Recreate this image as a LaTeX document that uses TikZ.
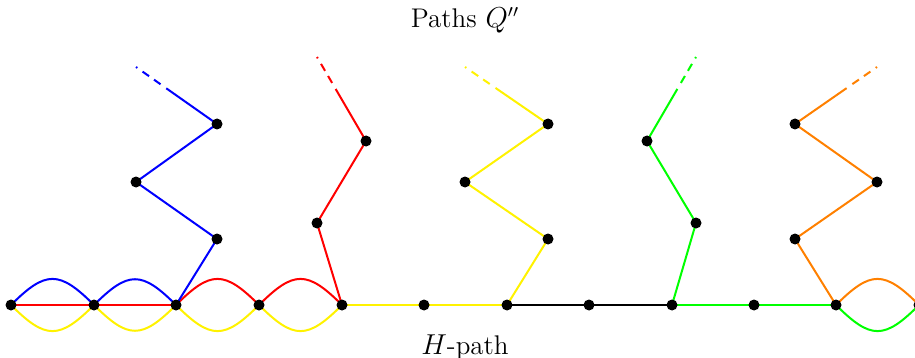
\documentclass[tikz,border=0pt]{standalone}
\usetikzlibrary{calc}
\begin{document}
\begin{tikzpicture}[x=0.5pt,y=-0.5pt,
  dot/.style={circle,fill=black,inner sep=0pt,minimum size=5.5pt},
  edge/.style={line width=1pt},
  fade/.style={line width=1pt,dash pattern=on 0.8pt off 3.2pt on 4pt off 3pt on 4pt off 3.5pt on 200pt off 0pt},
  arcup/.style={line width=1pt,out=45,in=135,looseness=1.52},
  arcdn/.style={line width=1pt,out=-45,in=-135,looseness=1.52},
  lbl/.style={anchor=base,font=\fontsize{13.5}{16}\selectfont}]
\useasboundingbox (0,0) rectangle (915,358);
\definecolor{myorange}{RGB}{255,128,0}
% bottom coordinates
\coordinate (b0) at (11,305);
\coordinate (b1) at (94,305);
\coordinate (b2) at (176,305);
\coordinate (b3) at (259,305);
\coordinate (b4) at (342,305);
\coordinate (b5) at (424,305);
\coordinate (b6) at (507,305);
\coordinate (b7) at (589,305);
\coordinate (b8) at (672,305);
\coordinate (b9) at (754,305);
\coordinate (b10) at (836,305);
\coordinate (b11) at (919,305);
% upper coordinates
\coordinate (u1) at (217,239);
\coordinate (u2) at (136,182);
\coordinate (u3) at (217,124);
\coordinate (e1) at (136,67);
\coordinate (r1) at (317,223);
\coordinate (r2) at (366,141);
\coordinate (e2) at (317,57);
\coordinate (y1) at (548,239);
\coordinate (y2) at (465,182);
\coordinate (y3) at (548,124);
\coordinate (e3) at (465,67);
\coordinate (g1) at (696,223);
\coordinate (g2) at (647,141);
\coordinate (e4) at (696,57);
\coordinate (o1) at (795,239);
\coordinate (o2) at (877,182);
\coordinate (o3) at (795,124);
\coordinate (e5) at (877,67);
% bottom edges
\draw[arcup,blue] (b0) to (b1);
\draw[arcup,blue] (b1) to (b2);
\draw[edge,red] (b0) -- (b1) -- (b2);
\draw[arcdn,yellow] (b0) to (b1);
\draw[arcdn,yellow] (b1) to (b2);
\draw[arcup,red] (b2) to (b3);
\draw[arcup,red] (b3) to (b4);
\draw[arcdn,yellow] (b2) to (b3);
\draw[arcdn,yellow] (b3) to (b4);
\draw[edge,yellow] (b4) -- (b5) -- (b6);
\draw[edge,black] (b6) -- (b7) -- (b8);
\draw[edge,green] (b8) -- (b9) -- (b10);
\draw[arcup,myorange] (b10) to (b11);
\draw[arcdn,green] (b10) to (b11);
% upper paths
\draw[edge,blue] (b2) -- (u1) -- (u2) -- (u3);
\draw[fade,blue] (e1) -- (u3);
\draw[edge,red] (b4) -- (r1) -- (r2);
\draw[fade,red] (e2) -- (r2);
\draw[edge,yellow] (b6) -- (y1) -- (y2) -- (y3);
\draw[fade,yellow] (e3) -- (y3);
\draw[edge,green] (b8) -- (g1) -- (g2);
\draw[fade,green] (e4) -- (g2);
\draw[edge,myorange] (b10) -- (o1) -- (o2) -- (o3);
\draw[fade,myorange] (e5) -- (o3);
% dots
\foreach \n in {b0,b1,b2,b3,b4,b5,b6,b7,b8,b9,b10,b11,u1,u2,u3,r1,r2,y1,y2,y3,g1,g2,o1,o2,o3}
  \node[dot] at (\n) {};
% labels
\node[lbl] (top) at (465,28) {Paths $Q''$};
\node[lbl] (bot) at (465,354) {$H$-path};
\end{tikzpicture}
\end{document}
